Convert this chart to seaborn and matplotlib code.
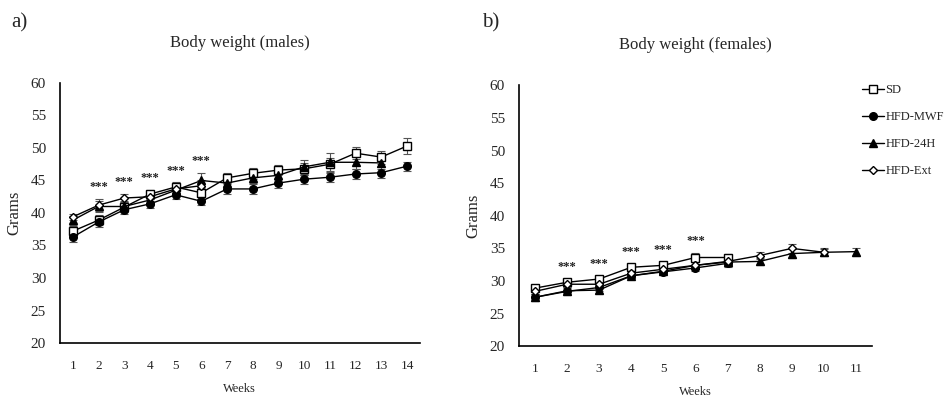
import matplotlib
matplotlib.use("Agg")
import matplotlib.pyplot as plt
import seaborn as sns

groups = ["SD", "HFD-MWF", "HFD-24H", "HFD-Ext"]

# males: mean body weight (g) and error per week
male_sd = [37.2, 38.9, 40.9, 42.9, 44.0, 43.1, 45.4, 46.1, 46.6, 46.8, 47.5, 49.2, 48.6, 50.3]
male_mwf = [36.3, 38.6, 40.5, 41.4, 42.8, 41.8, 43.7, 43.7, 44.6, 45.2, 45.5, 46.0, 46.2, 47.2]
male_24h = [38.9, 41.0, 41.0, 42.0, 43.5, 45.0, 44.6, 45.4, 45.8, 47.1, 47.8, 47.8, 47.7]
male_ext = [39.4, 41.2, 42.3, 42.5, 43.7, 44.2]
male_sd_err = [0.8, 0.8, 0.8, 0.7, 0.7, 0.9, 0.8, 0.8, 0.8, 0.9, 1.0, 0.9, 1.0, 1.2]
male_mwf_err = [0.7, 0.7, 0.7, 0.7, 0.7, 0.6, 0.8, 0.8, 0.7, 0.7, 0.7, 0.7, 0.8, 0.7]
male_24h_err = [0.7, 0.9, 0.8, 0.7, 0.7, 1.2, 0.9, 0.8, 0.8, 1.1, 1.5, 1.0, 1.0]
male_ext_err = [0.5, 0.9, 0.6, 0.6, 0.6, 0.8]

# females
female_sd = [28.9, 29.8, 30.3, 32.1, 32.4, 33.6, 33.6]
female_mwf = [27.5, 28.4, 29.0, 30.8, 31.4, 32.0, 32.7]
female_24h = [27.5, 28.5, 28.6, 30.8, 31.5, 32.4, 32.9, 33.0, 34.2, 34.4, 34.5]
female_ext = [28.4, 29.5, 29.5, 31.2, 31.8, 32.4, 33.0, 33.9, 35.0, 34.4]
female_sd_err = [0.5, 0.5, 0.5, 0.5, 0.5, 0.7, 0.6]
female_mwf_err = [0.5, 0.5, 0.5, 0.4, 0.4, 0.5, 0.6]
female_24h_err = [0.5, 0.5, 0.5, 0.4, 0.4, 0.5, 0.6, 0.6, 0.7, 0.5, 0.6]
female_ext_err = [0.4, 0.4, 0.5, 0.4, 0.4, 0.5, 0.5, 0.6, 0.7, 0.6]

signif_weeks = [2, 3, 4, 5, 6]

sns.set_style("white")
plt.rcParams['font.family'] = ['Liberation Serif', 'DejaVu Serif']

markers = {"SD": ("s", "white"), "HFD-MWF": ("o", "black"),
           "HFD-24H": ("^", "black"), "HFD-Ext": ("D", "white")}
msize = {"SD": 5.5, "HFD-MWF": 5.5, "HFD-24H": 6, "HFD-Ext": 4.5}

fig = plt.figure(figsize=(9.52, 3.97), dpi=100)
ax1 = fig.add_axes([0.063, 0.136, 0.378, 0.655])
ax2 = fig.add_axes([0.545, 0.128, 0.371, 0.657])


def draw(ax, series, errs, nweeks, title):
    tops = {}
    for g, vals, err in zip(groups, series, errs):
        weeks = list(range(1, len(vals) + 1))
        ax.errorbar(weeks, vals, yerr=err, fmt="none", ecolor="#555555",
                    elinewidth=0.8, capsize=3, capthick=0.8, zorder=2)
        m, fc = markers[g]
        sns.lineplot(x=weeks, y=vals, ax=ax, color="black", linewidth=1,
                     marker=m, markersize=msize[g], markerfacecolor=fc,
                     markeredgecolor="black", markeredgewidth=1,
                     label=g, legend=False, zorder=3)
        for w, v, e in zip(weeks, vals, err):
            tops[w] = max(tops.get(w, 0), v + e)
    for w in signif_weeks:
        ax.text(w, tops[w] + 0.9, "***", ha="center", va="bottom",
                fontsize=9, fontweight="bold", color="#222222")
    ax.set_xlim(0.5, nweeks + 0.5)
    ax.set_ylim(20, 60)
    ax.set_xticks(range(1, nweeks + 1))
    ax.set_yticks(range(20, 61, 5))
    ax.tick_params(axis="x", labelsize=9.5, length=0, pad=12)
    ax.tick_params(axis="y", labelsize=11, length=0, pad=10)
    for s in ["top", "right"]:
        ax.spines[s].set_visible(False)
    for s in ["left", "bottom"]:
        ax.spines[s].set_color("black")
        ax.spines[s].set_linewidth(1.2)
    ax.set_xlabel("Weeks", fontsize=9, labelpad=8)
    ax.set_ylabel("Grams", fontsize=12, labelpad=6)
    ax.set_title(title, fontsize=12, pad=26)


draw(ax1, [male_sd, male_mwf, male_24h, male_ext],
     [male_sd_err, male_mwf_err, male_24h_err, male_ext_err], 14, "Body weight (males)")
draw(ax2, [female_sd, female_mwf, female_24h, female_ext],
     [female_sd_err, female_mwf_err, female_24h_err, female_ext_err], 11, "Body weight (females)")

fig.text(0.012, 0.93, "a)", fontsize=15)
fig.text(0.506, 0.93, "b)", fontsize=15)

handles, labels = ax2.get_legend_handles_labels()
fig.legend(handles, labels, loc="upper left", bbox_to_anchor=(0.9, 0.8),
           frameon=False, fontsize=9, handlelength=1.8, handletextpad=0.1,
           labelspacing=1.2, borderaxespad=0)

fig.savefig("out.png", dpi=100)
